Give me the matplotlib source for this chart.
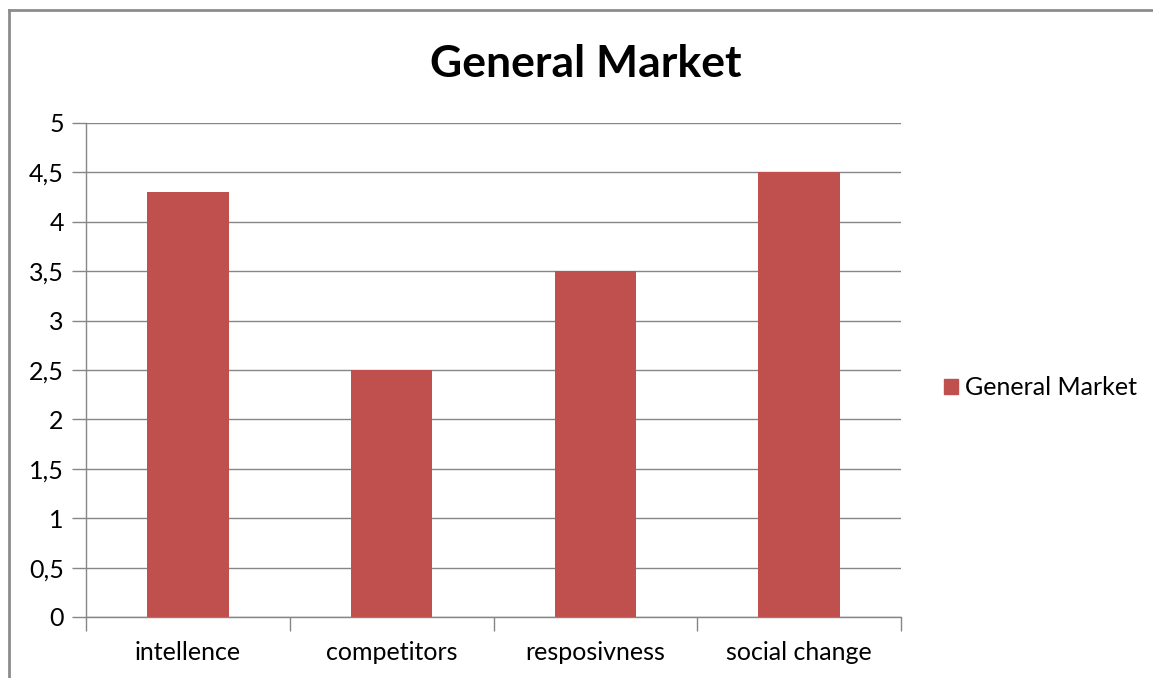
import matplotlib

matplotlib.use("Agg")
import matplotlib.pyplot as plt
from matplotlib.lines import Line2D
from matplotlib.patches import Patch
from matplotlib.ticker import FixedLocator, FuncFormatter

categories = ["intellence", "competitors", "resposivness", "social change"]
values = [4.3, 2.5, 3.5, 4.5]
series_name = "General Market"
yticks = [0, 0.5, 1, 1.5, 2, 2.5, 3, 3.5, 4, 4.5, 5]

BAR = "#C0504D"
GRID = "#868686"

plt.rcParams["font.family"] = ["Lato", "DejaVu Sans"]

fig = plt.figure(figsize=(11.53, 6.78), dpi=100)
ax = fig.add_axes([0.0746, 0.09, 0.7069, 0.7286])

x = list(range(len(categories)))
ax.bar(x, values, width=0.4, color=BAR, zorder=3)

ax.set_xlim(-0.5, len(categories) - 0.5)
ax.set_ylim(0, 5)
ax.set_yticks(yticks)
ax.yaxis.set_major_formatter(FuncFormatter(lambda v, _: f"{v:g}".replace(".", ",")))
ax.set_xticks(x)
ax.set_xticklabels(categories)
# category separators as tick marks
ax.xaxis.set_minor_locator(FixedLocator([i - 0.5 for i in range(len(categories) + 1)]))
ax.tick_params(axis="x", which="major", length=0, pad=17, labelsize=18)
ax.tick_params(axis="x", which="minor", length=10, color=GRID, width=1)
ax.tick_params(axis="y", length=10, color=GRID, width=1, pad=6, labelsize=18)
ax.grid(axis="y", color=GRID, linewidth=1, zorder=0)
for s in ("top", "right"):
    ax.spines[s].set_visible(False)
for s in ("left", "bottom"):
    ax.spines[s].set_color(GRID)
    ax.spines[s].set_linewidth(1)

fig.text(0.508, 0.906, "General Market", ha="center", va="center",
         fontsize=32, fontweight="bold")

fig.legend(handles=[Patch(color=BAR, label=series_name)],
           loc="center left", bbox_to_anchor=(0.8187, 0.428), frameon=False,
           borderaxespad=0, borderpad=0,
           fontsize=18, handlelength=0.55, handleheight=0.55, handletextpad=0.3)

# outer chart border (top and left edges)
fig.add_artist(Line2D([9 / 1153, 1], [1 - 10 / 678] * 2, color="#8C8C8C", linewidth=2))
fig.add_artist(Line2D([9 / 1153] * 2, [0, 1 - 10 / 678], color="#8C8C8C", linewidth=2))

fig.savefig("out.png", dpi=100)
